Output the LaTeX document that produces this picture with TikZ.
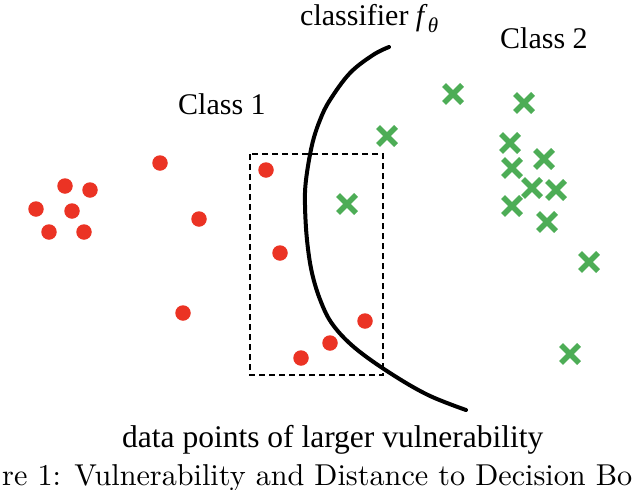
\documentclass[tikz,border=0pt]{standalone}
\usepackage{fontspec}
\newfontfamily\timesfont{Liberation Serif}
\usetikzlibrary{shapes.misc}
\definecolor{ptred}{RGB}{235,51,36}
\definecolor{ptgreen}{RGB}{77,173,86}
\begin{document}
\begin{tikzpicture}[x=1pt,y=-1pt,
  redpt/.style={circle,fill=ptred,draw=none,minimum size=15.5pt,inner sep=0pt},
  greenpt/.style={cross out,draw=ptgreen,line width=5.5pt,minimum size=12.5pt,inner sep=0pt},
  lbl/.style={inner sep=0pt,anchor=base west,font=\timesfont\fontsize{30}{36}\selectfont},
  boundary/.style={line width=4pt,line cap=round,line join=round},
  regionbox/.style={line width=1.5pt,dash pattern=on 6pt off 4pt}]
\useasboundingbox (0,0) rectangle (632,490);
% red points (class 1)
\node[redpt] (r1) at (160,163) {};
\node[redpt] (r2) at (65,186) {};
\node[redpt] (r3) at (90,190) {};
\node[redpt] (r4) at (36,209) {};
\node[redpt] (r5) at (72,211) {};
\node[redpt] (r6) at (49,232) {};
\node[redpt] (r7) at (84,232) {};
\node[redpt] (r8) at (199,219) {};
\node[redpt] (r9) at (183,313) {};
\node[redpt] (r10) at (266,170) {};
\node[redpt] (r11) at (280,253) {};
\node[redpt] (r12) at (365,321) {};
\node[redpt] (r13) at (330,343) {};
\node[redpt] (r14) at (301,358) {};
% green points (class 2)
\node[greenpt] (g1) at (347,204) {};
\node[greenpt] (g2) at (387,136) {};
\node[greenpt] (g3) at (453,94) {};
\node[greenpt] (g4) at (524,103) {};
\node[greenpt] (g5) at (510,143) {};
\node[greenpt] (g6) at (544,159) {};
\node[greenpt] (g7) at (512,168) {};
\node[greenpt] (g8) at (532,188) {};
\node[greenpt] (g9) at (556,190) {};
\node[greenpt] (g10) at (512,206) {};
\node[greenpt] (g11) at (547,222) {};
\node[greenpt] (g12) at (589,262) {};
\node[greenpt] (g13) at (570,354) {};
% dashed region
\draw[regionbox] (250,154) rectangle (383,375);
% decision boundary
\draw[boundary] plot[smooth,tension=0.6] coordinates {(389,47) (373,55) (350,73) (330,100) (320,120) (312,145) (306,180) (305,205) (307,240) (312,273) (321,302) (333,325) (355,348) (390,373) (428,395) (466,410)};
% labels
\node[lbl] (lc) at (300,25) {classifier \textit{f}\raisebox{-0.25em}{\fontsize{21}{24}\selectfont\textit{θ}}};
\node[lbl] (l1) at (178,114) {Class 1};
\node[lbl] (l2) at (500,48) {Class 2};
\node[lbl,font=\timesfont\fontsize{31.5}{36}\selectfont] (ld) at (122,447) {data points of larger vulnerability};
\node[inner sep=0pt,anchor=base west] (cap) at (2,485) {\scalebox{3.02}{\fontsize{10}{12}\selectfont re 1: Vulnerability and Distance to Decision Bo}};
\end{tikzpicture}
\end{document}
